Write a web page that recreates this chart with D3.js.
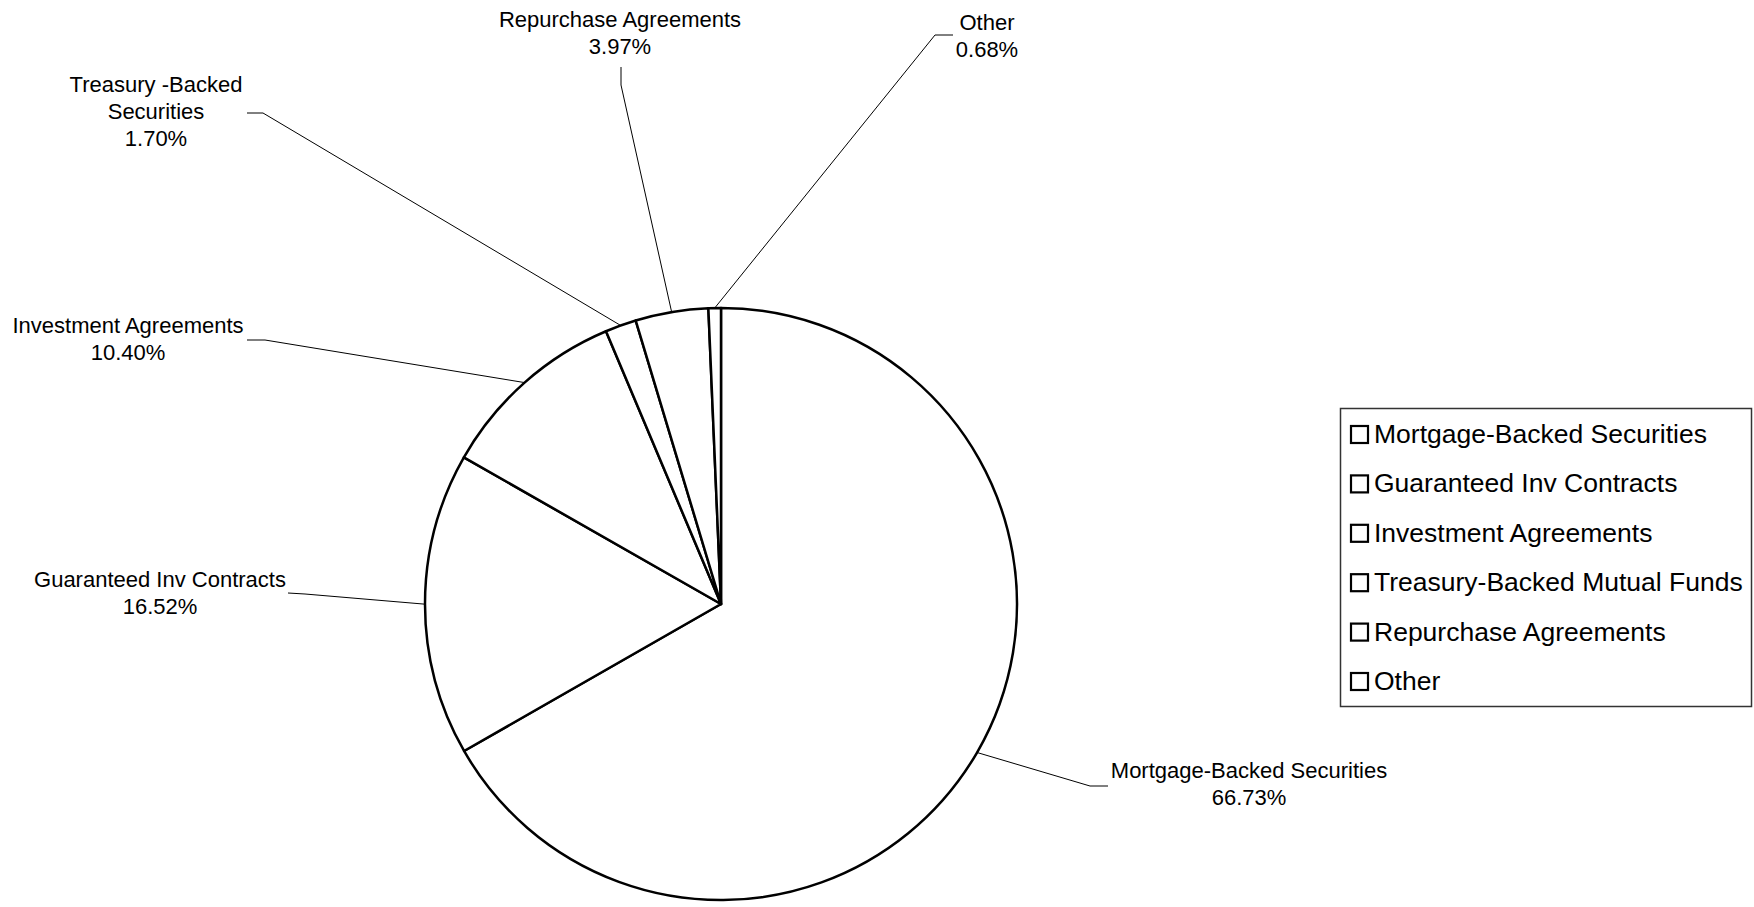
<!DOCTYPE html>
<html>
<head>
<meta charset="utf-8">
<script src="https://cdn.jsdelivr.net/npm/d3@7"></script>
<style>
    body { margin: 0; background: #fff; }
    text { font-family: "Liberation Sans", Arial, sans-serif; fill: #000; }
</style>
</head>
<body>
<div id="chart"></div>
<script>
// data
var legendNames = ["Mortgage-Backed Securities", "Guaranteed Inv Contracts", "Investment Agreements",
    "Treasury-Backed Mutual Funds", "Repurchase Agreements", "Other"];
var sliceLabels = [["Mortgage-Backed Securities"], ["Guaranteed Inv Contracts"], ["Investment Agreements"],
    ["Treasury -Backed", "Securities"], ["Repurchase Agreements"], ["Other"]];
var shares = [66.73, 16.52, 10.40, 1.70, 3.97, 0.68];

// label layout: text centre + first baseline, then elbow and end of the leader line
var labelLayout = [
    { x: 1249, y: 778, elbow: [1090, 786], end: [1108, 786] },
    { x: 160, y: 587, elbow: [305, 594], end: [288, 593] },
    { x: 128, y: 333, elbow: [265, 340], end: [247, 340] },
    { x: 156, y: 92, elbow: [263, 113], end: [247, 113] },
    { x: 620, y: 27, elbow: [621, 85], end: [621, 67] },
    { x: 987, y: 30, elbow: [935, 35], end: [953, 35] }
];

var width = 1754, height = 907;
var cx = 721, cy = 604, radius = 296;
var lineHeight = 27;

var svg = d3.select("#chart").append("svg").attr("width", width).attr("height", height);

var pie = d3.pie().sort(null).value(function (d) { return d; });
var arcs = pie(shares);
var arc = d3.arc().innerRadius(0).outerRadius(radius);
var edge = d3.arc().innerRadius(radius).outerRadius(radius);

var chart = svg.append("g").attr("transform", "translate(" + cx + "," + cy + ")");

chart.selectAll("path.slice")
    .data(arcs)
    .enter()
    .append("path")
    .attr("class", "slice")
    .attr("d", arc)
    .style("fill", "#fff")
    .style("stroke", "#000")
    .style("stroke-width", 2.5)
    .style("stroke-linejoin", "round");

// leader lines
svg.selectAll("polyline.leader")
    .data(arcs)
    .enter()
    .append("polyline")
    .attr("class", "leader")
    .attr("points", function (d, i) {
        var p = edge.centroid(d);
        var l = labelLayout[i];
        return [[cx + p[0], cy + p[1]], l.elbow, l.end].map(function (q) { return q.join(","); }).join(" ");
    })
    .style("fill", "none")
    .style("stroke", "#000")
    .style("stroke-width", 1);

// slice labels
var labels = svg.selectAll("text.slice-label")
    .data(arcs)
    .enter()
    .append("text")
    .attr("class", "slice-label")
    .attr("text-anchor", "middle")
    .style("font-size", "22px");

labels.each(function (d, i) {
    var t = d3.select(this);
    var lines = sliceLabels[i].concat([d3.format(".2f")(shares[i]) + "%"]);
    lines.forEach(function (s, j) {
        t.append("tspan")
            .attr("x", labelLayout[i].x)
            .attr("y", labelLayout[i].y + j * lineHeight)
            .text(s);
    });
});

// legend
var legend = svg.append("g");
legend.append("rect")
    .attr("x", 1340.5).attr("y", 408.5)
    .attr("width", 411).attr("height", 298)
    .style("fill", "#fff")
    .style("stroke", "#333")
    .style("stroke-width", 1.5);

var rows = legend.selectAll("g.row")
    .data(legendNames)
    .enter()
    .append("g")
    .attr("class", "row")
    .attr("transform", function (d, i) { return "translate(1350," + (443 + i * 49.4) + ")"; });

rows.append("rect")
    .attr("x", 1).attr("y", -17)
    .attr("width", 17).attr("height", 17)
    .style("fill", "#fff")
    .style("stroke", "#000")
    .style("stroke-width", 2.2);

rows.append("text")
    .attr("x", 24)
    .attr("y", 0)
    .style("font-size", "26.5px")
    .text(function (d) { return d; });
</script>
</body>
</html>
